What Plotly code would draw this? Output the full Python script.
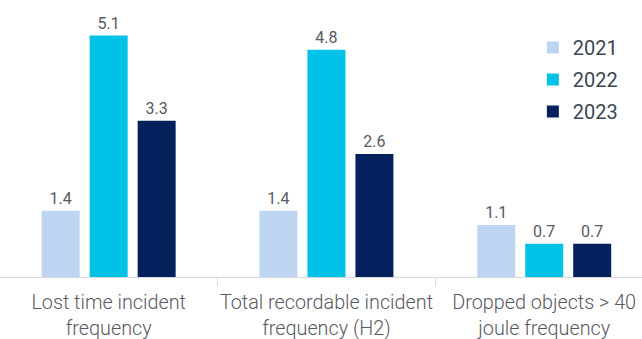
import plotly.graph_objects as go

categories = ["Lost time incident<br>frequency",
              "Total recordable incident<br>frequency (H2)",
              "Dropped objects > 40<br>joule frequency"]
years = ["2021", "2022", "2023"]
values_2021 = [1.4, 1.4, 1.1]
values_2022 = [5.1, 4.8, 0.7]
values_2023 = [3.3, 2.6, 0.7]
colors = ["#bdd5f0", "#00c2e6", "#04215e"]

fig = go.Figure()
for i, (yr, vals) in enumerate(zip(years, [values_2021, values_2022, values_2023])):
    fig.add_trace(go.Bar(
        x=categories, y=vals, name=yr, legendgroup=yr,
        marker=dict(color=colors[i], line=dict(width=0)),
        text=[f"{v:.1f}" for v in vals], textposition="outside",
        textfont=dict(family="Roboto", size=16, color="#555a60"),
        cliponaxis=False,
    ))

fig.update_layout(
    width=642, height=339,
    margin=dict(l=0, r=0, t=10, b=62),
    paper_bgcolor="white", plot_bgcolor="white",
    barmode="group", bargap=0.339, bargroupgap=0.208,
    font=dict(family="Roboto", color="#555a60"),
    legend=dict(x=0.830, y=0.9325, xanchor="left", yanchor="top",
                font=dict(family="Roboto", size=20, color="#3d4652"),
                tracegroupgap=3, itemwidth=30, bgcolor="rgba(0,0,0,0)"),
    showlegend=True,
)
fig.update_xaxes(type="category", range=[-0.499, 2.449],
                 showline=True, linecolor="#d9d9d9", linewidth=1,
                 ticks="outside", tickson="boundaries", ticklen=8, tickcolor="#d9d9d9",
                 ticklabelstandoff=7, tickangle=0, automargin=False,
                 tickfont=dict(family="Roboto", size=19.8, color="#58595f", weight=300),
                 showgrid=False)
fig.update_yaxes(range=[0, 5.64], visible=False, showgrid=False, automargin=False)

fig.write_html("out.html",
               config={"displayModeBar": False},
               post_script="document.body.style.margin='0';document.body.style.overflow='hidden';")
